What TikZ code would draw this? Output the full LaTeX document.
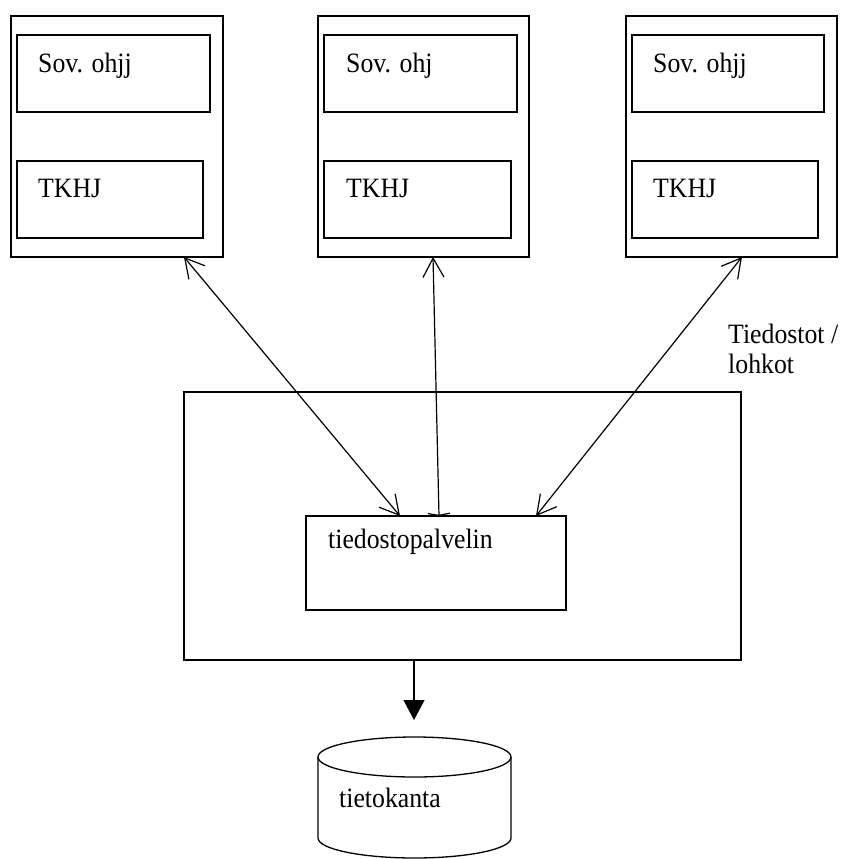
\documentclass[tikz,border=0pt]{standalone}
\usepackage{fontspec}
\setmainfont{Liberation Serif}[FakeStretch=0.92]
\usetikzlibrary{arrows.meta}
\begin{document}
\begin{tikzpicture}[x=1pt,y=-1pt,
  box/.style={draw, line width=1.3pt, inner sep=0pt, outer sep=0pt, anchor=north west},
  lbl/.style={anchor=base west, inner sep=0pt, font=\fontsize{28}{30}\selectfont},
  barb/.tip={Straight Barb[length=19pt,width=21pt]},
  link/.style={line width=1.2pt},
]
\useasboundingbox (0,0) rectangle (845,859);
% clients
\node[box, minimum width=212pt, minimum height=241pt] (c1) at (11,16) {};
\node[box, minimum width=193pt, minimum height=77pt] (s1) at (17,35) {};
\node[box, minimum width=186pt, minimum height=77pt] (t1) at (17,161) {};
\node[box, minimum width=211pt, minimum height=241pt] (c2) at (318,16) {};
\node[box, minimum width=193pt, minimum height=77pt] (s2) at (324,35) {};
\node[box, minimum width=187pt, minimum height=77pt] (t2) at (324,161) {};
\node[box, minimum width=211pt, minimum height=241pt] (c3) at (626,16) {};
\node[box, minimum width=192pt, minimum height=77pt] (s3) at (632,35) {};
\node[box, minimum width=186pt, minimum height=77pt] (t3) at (632,161) {};
\node[lbl] (ls1) at (38,73) {Sov. ohjj};
\node[lbl] (lt1) at (38,197) {TKHJ};
\node[lbl] (ls2) at (346,73) {Sov. ohj};
\node[lbl] (lt2) at (346,197) {TKHJ};
\node[lbl] (ls3) at (653,73) {Sov. ohjj};
\node[lbl] (lt3) at (653,197) {TKHJ};
% server
\node[box, minimum width=557pt, minimum height=268pt] (srv) at (184,392) {};
\node[box, minimum width=260pt, minimum height=94pt] (fs) at (306,516) {};
\node[lbl] (lfs) at (328,548) {tiedostopalvelin};
\node[lbl] (lbl1) at (728,343) {Tiedostot /};
\node[lbl] (lbl2) at (728,373) {lohkot};
% connectors
\coordinate (p1) at (184,257); \coordinate (q1) at (400,516);
\coordinate (p2) at (433,257); \coordinate (q2) at (439,516);
\coordinate (p3) at (742,257); \coordinate (q3) at (536,516);
\draw[link, barb-barb] (p1) -- (q1);
\draw[link, {Straight Barb[length=2pt,width=22pt]}-barb] (q2) -- (p2);
\draw[link, barb-barb] (p3) -- (q3);
\coordinate (d1) at (414,660); \coordinate (d2) at (414,720);
\draw[link, -{Triangle[length=20pt,width=21pt]}] (d1) -- (d2);
% database
\draw[line width=1.3pt] (414.5,757) ellipse [x radius=96.5, y radius=20];
\draw[line width=1.3pt] (318,757) -- (318,838) arc[start angle=180, end angle=0, x radius=96.5, y radius=20] -- (511,757);
\node[lbl] (ldb) at (339,807) {tietokanta};
\end{tikzpicture}
\end{document}
